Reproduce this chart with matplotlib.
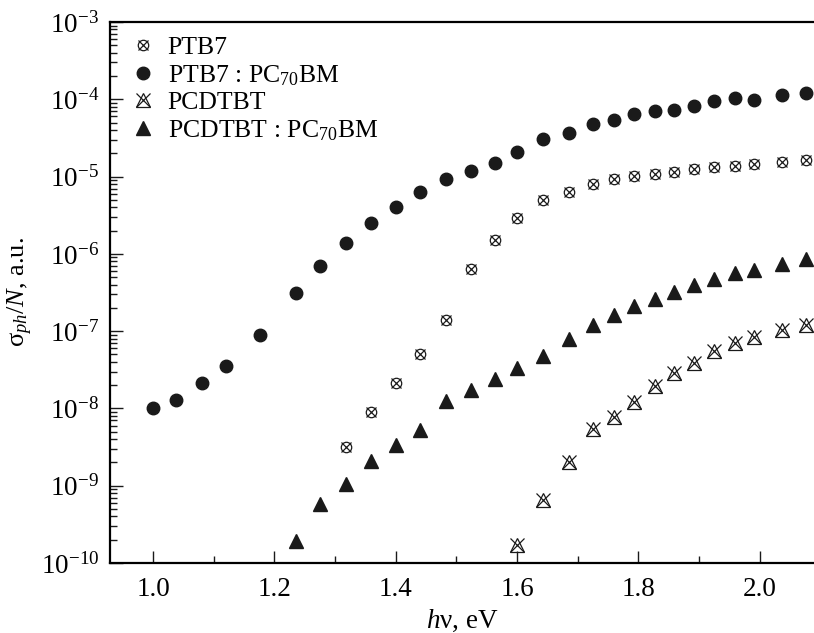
"""Photoconductivity spectra sigma_ph/N for PTB7 and PCDTBT films, with/without PC70BM."""
import matplotlib; matplotlib.use('Agg')  # noqa: E702
import matplotlib.pyplot as plt
from matplotlib.legend_handler import HandlerTuple
from matplotlib.ticker import FixedLocator, MultipleLocator

plt.rcParams['font.family'] = ['Liberation Serif', 'DejaVu Serif']
plt.rcParams['mathtext.fontset'] = 'custom'
plt.rcParams['mathtext.rm'] = 'Liberation Serif'
plt.rcParams['mathtext.it'] = 'Liberation Serif:italic'

energy = [1.0, 1.037, 1.08, 1.12, 1.176, 1.235, 1.275, 1.318, 1.36, 1.40,
          1.44, 1.483, 1.524, 1.563, 1.60, 1.643, 1.686, 1.726, 1.76, 1.792,
          1.827, 1.859, 1.892, 1.925, 1.959, 1.99, 2.036, 2.076]

ptb7_pcbm = [1.0e-8, 1.27e-8, 2.15e-8, 3.56e-8, 8.8e-8, 3.1e-7, 7.0e-7,
             1.39e-6, 2.5e-6, 4.0e-6, 6.4e-6, 9.3e-6, 1.18e-5, 1.51e-5,
             2.07e-5, 3.05e-5, 3.65e-5, 4.78e-5, 5.38e-5, 6.37e-5, 7.1e-5,
             7.24e-5, 8.2e-5, 9.6e-5, 1.04e-4, 9.7e-5, 1.12e-4, 1.2e-4]
ptb7 = [3.2e-9, 8.9e-9, 2.15e-8, 5.1e-8, 1.39e-7, 6.35e-7, 1.51e-6, 2.9e-6,
        5.0e-6, 6.35e-6, 8.0e-6, 9.2e-6, 1.03e-5, 1.07e-5, 1.14e-5, 1.26e-5,
        1.33e-5, 1.37e-5, 1.44e-5, 1.54e-5, 1.64e-5]
pcdtbt_pcbm = [1.9e-10, 5.8e-10, 1.05e-9, 2.1e-9, 3.4e-9, 5.3e-9, 1.25e-8,
               1.75e-8, 2.4e-8, 3.3e-8, 4.8e-8, 7.8e-8, 1.2e-7, 1.6e-7,
               2.1e-7, 2.6e-7, 3.2e-7, 4.0e-7, 4.7e-7, 5.7e-7, 6.2e-7,
               7.5e-7, 8.5e-7]
pcdtbt = [1.7e-10, 6.5e-10, 2.0e-9, 5.4e-9, 7.7e-9, 1.22e-8, 1.97e-8,
          2.84e-8, 3.9e-8, 5.5e-8, 7.0e-8, 8.5e-8, 1.05e-7, 1.2e-7]

x_ticks = [1.0, 1.2, 1.4, 1.6, 1.8, 2.0]
decades = list(range(-10, -2))

e_ptb7 = energy[-len(ptb7):]
e_pcdtbt_pcbm = energy[-len(pcdtbt_pcbm):]
e_pcdtbt = energy[-len(pcdtbt):]

fig = plt.figure(figsize=(8.14, 6.33), dpi=100)
ax = fig.add_axes([110 / 814, 70 / 633, 704 / 814, 541 / 633])

k = '#1a1a1a'
h1a, = ax.plot(e_ptb7, ptb7, 'o', ms=7.5, mfc='none', mec=k, mew=0.9)
h1b, = ax.plot(e_ptb7, ptb7, 'x', ms=6.5, mec=k, mew=0.9)
h2, = ax.plot(energy, ptb7_pcbm, 'o', ms=9, color=k)
h3a, = ax.plot(e_pcdtbt, pcdtbt, '^', ms=10.5, mfc='none', mec=k, mew=0.9)
h3b, = ax.plot(e_pcdtbt, pcdtbt, 'x', ms=9.5, mec=k, mew=0.9)
h4, = ax.plot(e_pcdtbt_pcbm, pcdtbt_pcbm, '^', ms=10, color=k)

ax.set_yscale('log')
ax.set_ylim(1e-10, 1e-3)
ax.set_xlim(0.929, 2.0895)
ax.xaxis.set_major_locator(FixedLocator(x_ticks))
ax.xaxis.set_minor_locator(MultipleLocator(0.1))
ax.xaxis.set_major_formatter(plt.FuncFormatter(lambda v, _: f'{v:.1f}'))
ax.yaxis.set_major_locator(FixedLocator([10.0 ** d for d in decades]))
ax.yaxis.set_minor_locator(FixedLocator(
    [m * 10.0 ** d for d in decades[:-1] for m in range(2, 10)]))

ax.spines['right'].set_visible(False)
for s in ['left', 'bottom', 'top']:
    ax.spines[s].set_linewidth(1.6)
ax.tick_params(which='both', direction='in', top=False, right=False,
               labelsize=19.5, width=1.0, color=k)
ax.tick_params(which='major', length=9, pad=8)
ax.tick_params(which='minor', length=5)
ax.tick_params(axis='x', which='major', pad=10)

ax.set_xlabel('$h$ν, eV', fontsize=19.5, labelpad=4)
ax.set_ylabel('σ$_{ph}$/$N$, a.u.', fontsize=19, labelpad=4)

ax.legend([(h1a, h1b), h2, (h3a, h3b), h4],
          ['PTB7', r'PTB7 : PC$_{\mathrm{70}}$BM', 'PCDTBT',
           r'PCDTBT : PC$_{\mathrm{70}}$BM'],
          handler_map={tuple: HandlerTuple(ndivide=1)},
          loc='upper left', frameon=False, fontsize=18.5, handlelength=1.0,
          handletextpad=0.48, labelspacing=0.15, borderpad=0,
          borderaxespad=0, bbox_to_anchor=(0.028, 0.974))

fig.savefig('out.png', dpi=100)
